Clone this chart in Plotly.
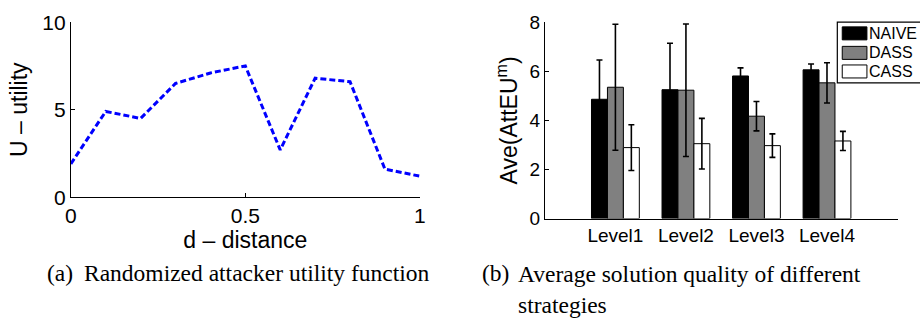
import plotly.graph_objects as go

# ---- data -------------------------------------------------------------
distance = [0.0, 0.1, 0.2, 0.3, 0.4, 0.5, 0.6, 0.7, 0.8, 0.9, 1.0]
utility = [1.9, 4.9, 4.5, 6.5, 7.1, 7.5, 2.7, 6.8, 6.6, 1.6, 1.2]

levels = ["Level1", "Level2", "Level3", "Level4"]
level_pos = [1, 2, 3, 4]
strategies = ["NAIVE", "DASS", "CASS"]
naive_mean = [4.86, 5.25, 5.81, 6.06]
naive_err = [1.60, 1.89, 0.33, 0.24]
dass_mean = [5.35, 5.23, 4.17, 5.53]
dass_err = [2.57, 2.70, 0.60, 0.82]
cass_mean = [2.89, 3.05, 2.97, 3.16]
cass_err = [0.93, 1.03, 0.48, 0.39]

W, H = 920, 324
SANS = "Liberation Sans, Arial, Helvetica, sans-serif"
SERIF = "Liberation Serif, Times New Roman, serif"


def px(x):
    return x / W


def py(y):
    return 1 - y / H


fig = go.Figure()

# (a) utility curve
fig.add_trace(go.Scatter(
    x=distance, y=utility, mode="lines",
    line=dict(color="#0000ff", width=3, dash="6px,3px"),
    xaxis="x", yaxis="y", showlegend=False, hoverinfo="skip",
))

# (b) grouped bars with error bars
fills = ["#000000", "#808080", "#ffffff"]
means = [naive_mean, dass_mean, cass_mean]
errs = [naive_err, dass_err, cass_err]
for name, fill, m, e in zip(strategies, fills, means, errs):
    fig.add_trace(go.Bar(
        x=level_pos, y=m, name=name,
        marker=dict(color=fill, line=dict(color="#000000", width=1)),
        error_y=dict(type="data", array=e, visible=True,
                     color="#000000", thickness=1.6, width=3),
        xaxis="x2", yaxis="y2", showlegend=False,
    ))

axis_common = dict(
    showline=True, linecolor="#000000", linewidth=1,
    ticks="inside", ticklen=4, tickcolor="#000000",
    showgrid=False, zeroline=False, mirror=False,
)

fig.update_layout(
    width=W, height=H,
    margin=dict(l=0, r=0, t=0, b=0),
    paper_bgcolor="#ffffff", plot_bgcolor="rgba(0,0,0,0)",
    barmode="group", bargap=0.322, bargroupgap=0,
    xaxis=dict(
        domain=[px(65.7), px(419.3)], anchor="y", range=[0, 1],
        tickvals=[0, 0.5, 1], ticktext=["0", "0.5", "1"],
        tickfont=dict(family=SANS, size=21, color="#000000"),
        title=dict(text="d \u2013 distance", standoff=3,
                   font=dict(family=SANS, size=23, color="#000000")),
        **axis_common,
    ),
    yaxis=dict(
        domain=[py(199.3), py(11)], anchor="x", range=[0, 10],
        tickvals=[0, 5, 10],
        tickfont=dict(family=SANS, size=21, color="#000000"),
        title=dict(text="U \u2013 utility", standoff=8,
                   font=dict(family=SANS, size=23, color="#000000")),
        **axis_common,
    ),
    xaxis2=dict(
        domain=[px(546), px(903.3)], anchor="y2", range=[0, 5],
        tickvals=level_pos, ticktext=levels,
        tickfont=dict(family=SANS, size=19, color="#000000"),
        showline=True, linecolor="#000000", linewidth=1,
        ticks="", showgrid=False, zeroline=False,
    ),
    yaxis2=dict(
        domain=[py(222.3), py(11)], anchor="x2", range=[0, 8],
        tickvals=[0, 2, 4, 6, 8],
        tickfont=dict(family=SANS, size=19, color="#000000"),
        title=dict(text="Ave(AttEU<sup>m</sup>)", standoff=5,
                   font=dict(family=SANS, size=23, color="#000000")),
        **axis_common,
    ),
)

# legend box for the strategies
shapes = [dict(type="rect", xref="paper", yref="paper",
               x0=px(842.3), x1=px(930), y0=py(76.3), y1=py(11),
               line=dict(color="#000000", width=1.2), fillcolor="#ffffff")]
annotations = []
row_centers = [23, 44, 64]
for name, fill, yc in zip(strategies, fills, row_centers):
    shapes.append(dict(type="rect", xref="paper", yref="paper",
                       x0=px(847.3), x1=px(872.3),
                       y0=py(yc + 7), y1=py(yc - 7),
                       line=dict(color="#000000", width=1), fillcolor=fill))
    annotations.append(dict(
        text=name, xref="paper", yref="paper", x=px(872.5), y=py(yc),
        xanchor="left", yanchor="middle", showarrow=False,
        font=dict(family=SANS, size=16, color="#000000"),
    ))

# sub-figure captions
cap_font = dict(family=SERIF, size=23.5, color="#000000")
for text, x, y in [
    ("(a)", 40, 281),
    ("Randomized attacker utility function", 77, 281),
    ("(b)", 480, 281),
]:
    annotations.append(dict(text=text, xref="paper", yref="paper",
                            x=px(x), y=py(y), xanchor="left", yanchor="middle",
                            showarrow=False, align="left", font=cap_font))
annotations.append(dict(
    text="Average solution quality of different<br>strategies",
    xref="paper", yref="paper", x=px(517), y=py(266),
    xanchor="left", yanchor="top", showarrow=False, align="left",
    font=cap_font,
))

fig.update_layout(shapes=shapes, annotations=annotations)

fig.write_html("out.html")
